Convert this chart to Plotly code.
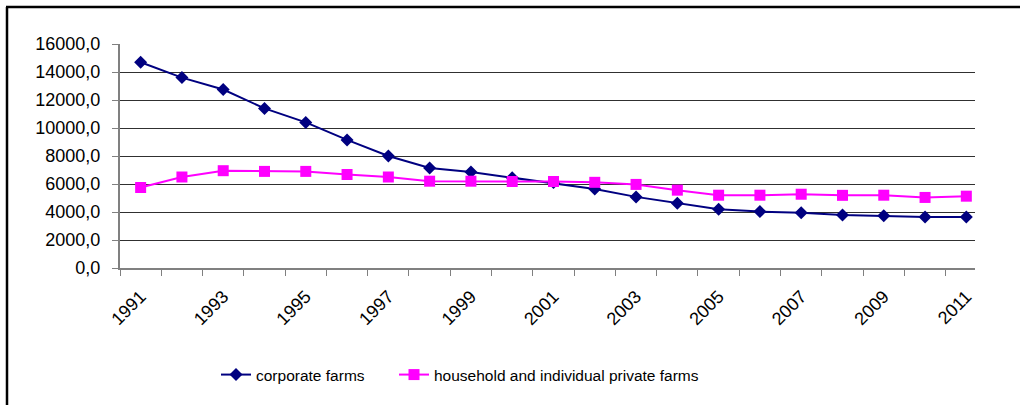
import plotly.graph_objects as go

years = list(range(1991, 2012))
corporate = [14700, 13600, 12750, 11400, 10400, 9150, 8000, 7150, 6850, 6450,
             6100, 5650, 5080, 4620, 4190, 4030, 3950, 3790, 3730, 3650, 3650]
household = [5750, 6500, 6950, 6900, 6900, 6680, 6500, 6200, 6200, 6180,
             6180, 6120, 5970, 5560, 5200, 5200, 5270, 5190, 5200, 5040, 5130]
label_years = years[::2]

W, H = 1020, 405
L, R, T, B = 120, 45, 44, 137
pw, ph = W - L - R, H - T - B

def px_x(p):
    return (p - L) / pw

def px_y(p):
    return (H - B - p) / ph

FONT = "Liberation Sans, Arial, sans-serif"

fig = go.Figure()
fig.add_trace(go.Scatter(
    x=years, y=corporate, name="corporate farms", mode="lines+markers",
    line=dict(color="#000080", width=2),
    marker=dict(symbol="diamond", size=10, color="#000080"),
    legend="legend",
))
fig.add_trace(go.Scatter(
    x=years, y=household, name="household and individual private farms",
    mode="lines+markers",
    line=dict(color="#FF00FF", width=2),
    marker=dict(symbol="square", size=11, color="#FF00FF"),
    legend="legend2",
))

legend_common = dict(orientation="h", yanchor="middle", xanchor="left",
                     font=dict(family=FONT, size=15.5, color="black"),
                     bgcolor="rgba(0,0,0,0)")

fig.update_layout(
    width=W, height=H,
    margin=dict(l=L, r=R, t=T, b=B, pad=0),
    paper_bgcolor="white", plot_bgcolor="white",
    separators=", ",
    font=dict(family=FONT, size=18, color="black"),
    showlegend=True,
    legend=dict(x=px_x(216), y=px_y(375), **legend_common),
    legend2=dict(x=px_x(394), y=px_y(375), **legend_common),
    xaxis=dict(
        range=[years[0] - 0.5, years[-1] + 0.21],
        tickmode="array", tickvals=label_years, ticktext=[str(y) for y in label_years],
        tickangle=-45, ticks="", ticklabelstandoff=9,
        showgrid=False, zeroline=False,
        showline=True, linecolor="#808080", linewidth=2,
        minor=dict(tickmode="array", tickvals=[y - 0.5 for y in years],
                   ticks="outside", ticklen=6, tickcolor="#808080", tickwidth=1,
                   showgrid=False),
        tickfont=dict(family=FONT, size=18, color="black"),
    ),
    yaxis=dict(
        range=[0, 16000], dtick=2000, tick0=0, tickformat=".1f",
        ticks="outside", ticklen=6, tickcolor="#808080", tickwidth=1,
        ticklabelstandoff=8,
        showgrid=True, gridcolor="#303030", gridwidth=1,
        zeroline=False,
        showline=True, linecolor="#808080", linewidth=2,
        tickfont=dict(family=FONT, size=18, color="black"),
    ),
)

# outer chart frame (left and top edges visible)
fig.add_shape(type="line", xref="paper", yref="paper",
              x0=px_x(7), x1=px_x(7), y0=px_y(7), y1=px_y(410),
              line=dict(color="black", width=2.5))
fig.add_shape(type="line", xref="paper", yref="paper",
              x0=px_x(6), x1=px_x(1025), y0=px_y(7), y1=px_y(7),
              line=dict(color="black", width=2.5))

fig.write_html("out.html")
